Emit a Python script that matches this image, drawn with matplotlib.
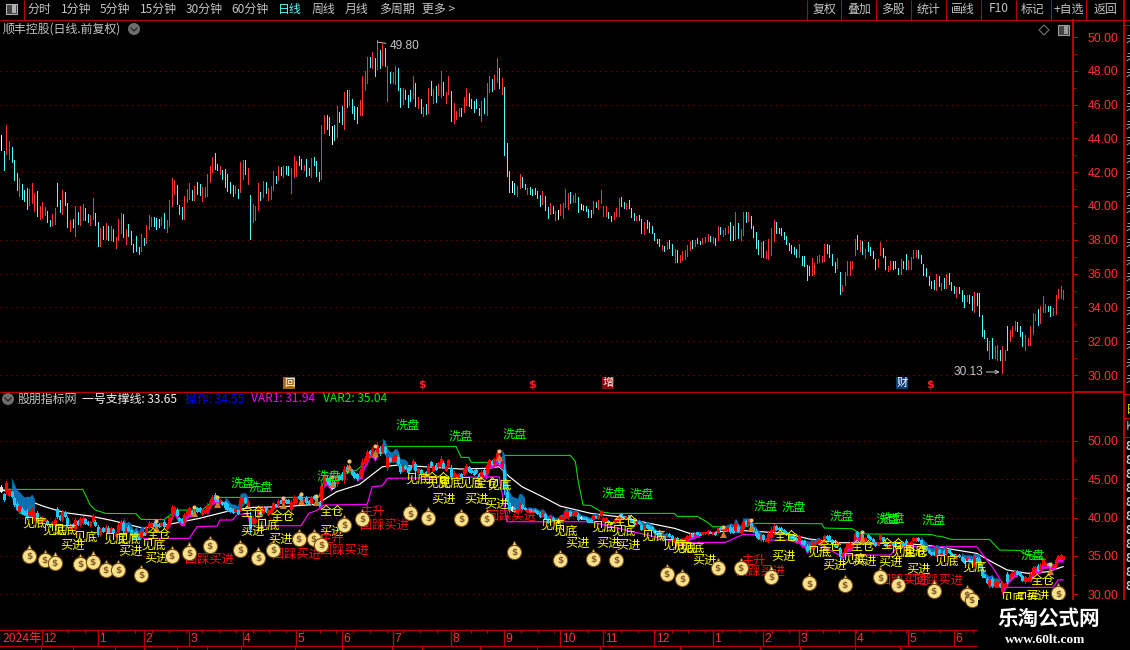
import matplotlib
matplotlib.use("Agg")
import matplotlib.pyplot as plt
from matplotlib.patches import Rectangle, Circle, Polygon
from matplotlib.ticker import FixedLocator
import numpy as np

plt.rcParams["font.family"] = ["Noto Sans CJK SC", "DejaVu Sans"]

# daily bars
highs = [
    44.2, 43.25, 44.79, 43.84, 43.49, 42.73, 41.98, 41.67, 41.31, 40.96,
    41.08, 41.02, 41.37, 40.78, 40.9, 40.02, 40.26, 39.96, 39.72, 39.2,
    39.55, 39.9, 41.37, 40.37, 40.96, 40.84, 40.2, 39.2, 39.26, 39.98,
    39.67, 40.02, 40.14, 39.9, 39.53, 39.49, 40.49, 39.61, 39.08, 38.67,
    38.79, 39.02, 38.84, 38.79, 38.65, 38.14, 39.26, 39.61, 39.55, 38.61,
    38.96, 38.55, 37.78, 38.25, 37.59, 38.37, 38.08, 38.9, 39.49, 39.37,
    39.37, 39.31, 39.26, 39.37, 39.61, 39.2, 40.37, 41.67, 41.55, 41.25,
    40.08, 39.96, 40.61, 41.02, 41.37, 40.96, 41.2, 41.43, 41.31, 41.14,
    41.14, 41.9, 42.37, 42.9, 43.14, 42.49, 42.37, 42.14, 42.2, 41.9,
    41.43, 41.25, 41.2, 41.02, 42.61, 42.73, 42.73, 42.25, 40.67, 40.14,
    40.02, 41.37, 40.84, 41.49, 41.43, 41.08, 41.2, 42.08, 41.78, 42.37,
    42.31, 42.37, 42.37, 42.37, 42.25, 42.96, 42.67, 42.96, 42.78, 42.43,
    42.78, 42.25, 42.84, 42.9, 42.67, 42.02, 44.79, 45.37, 45.37, 45.25,
    44.73, 44.79, 45.9, 45.55, 45.9, 46.73, 46.84, 46.84, 46.31, 45.9,
    45.84, 46.26, 47.67, 47.96, 48.84, 48.84, 49.14, 48.78, 49.8, 49.25,
    49.6, 49.37, 48.31, 47.9, 47.9, 48.31, 48.14, 46.96, 46.96, 46.84,
    46.55, 46.84, 47.67, 47.25, 46.43, 46.31, 45.84, 46.02, 46.96, 47.37,
    46.9, 47.08, 47.2, 47.96, 47.31, 46.73, 47.67, 46.78, 46.08, 45.61,
    45.78, 45.78, 46.43, 46.96, 46.67, 46.31, 46.2, 46.31, 45.78, 46.2,
    46.37, 47.25, 47.67, 47.49, 47.73, 48.73, 48.14, 47.55, 47.02, 43.73,
    42.08, 41.49, 41.37, 41.2, 41.9, 41.73, 41.31, 41.08, 41.14, 41.02,
    41.08, 40.9, 40.67, 40.9, 40.61, 39.96, 40.2, 40.02, 39.72, 39.78,
    40.14, 40.2, 41.02, 40.78, 40.84, 40.67, 40.78, 40.55, 40.14, 40.08,
    40.02, 39.84, 39.78, 40.31, 40.26, 40.37, 40.96, 40.02, 40.02, 39.66,
    39.39, 39.63, 39.88, 40.49, 40.55, 40.22, 40.18, 40.37, 39.9, 39.59,
    39.43, 39.49, 39.23, 39.03, 39.15, 39.03, 38.84, 38.4, 38.05, 38.05,
    37.71, 37.61, 37.85, 37.97, 37.73, 37.46, 37.42, 37.12, 37.34, 37.42,
    37.69, 37.93, 38.01, 37.97, 38.11, 37.95, 38.11, 38.17, 38.36, 38.2,
    38.17, 38.11, 38.8, 38.76, 38.6, 38.7, 38.8, 39.03, 38.8, 39.63,
    38.99, 38.64, 39.66, 39.63, 39.66, 39.43, 38.8, 38.48, 38.01, 37.89,
    37.91, 37.32, 38.05, 38.7, 39.19, 39.03, 38.7, 38.7, 38.48, 38.2,
    37.81, 37.69, 37.57, 37.46, 37.75, 37.06, 37.06, 36.51, 36.43, 36.92,
    36.63, 37.06, 37.12, 37.06, 37.77, 37.73, 37.71, 37.14, 36.67, 36.92,
    36.12, 35.35, 36.12, 36.73, 36.75, 36.73, 38.05, 38.3, 37.97, 37.91,
    37.46, 37.89, 37.55, 37.34, 36.86, 36.86, 37.85, 37.51, 37.02, 36.43,
    36.77, 36.73, 36.73, 36.33, 36.86, 36.73, 37.18, 36.83, 36.98, 37.42,
    37.42, 37.42, 37.12, 36.59, 36.33, 35.84, 35.56, 35.64, 36.0, 35.88,
    35.44, 35.72, 36.0, 36.04, 35.48, 35.29, 35.21, 35.21, 35.05, 34.75,
    34.75, 34.75, 34.65, 34.93, 34.85, 34.85, 33.57, 32.64, 32.19, 32.01,
    32.19, 31.7, 31.78, 31.46, 31.73, 31.5, 32.92, 32.64, 32.92, 33.2,
    33.12, 32.92, 32.52, 32.39, 32.19, 32.88, 33.67, 33.63, 33.91, 34.06,
    34.69, 34.22, 34.06, 34.06, 33.96, 34.75, 35.09, 35.29, 35.05,
]
lows = [
    43.31, 42.14, 43.08, 42.77, 42.61, 41.55, 40.96, 40.57, 40.43, 40.31,
    39.84, 40.08, 40.18, 39.72, 39.43, 39.26, 39.31, 39.49, 39.06, 38.79,
    38.9, 38.96, 39.98, 39.67, 39.55, 40.08, 38.73, 38.55, 38.73, 38.25,
    38.96, 38.9, 39.2, 39.2, 39.08, 38.9, 39.26, 38.9, 37.61, 37.61,
    38.06, 38.02, 38.0, 37.96, 37.9, 37.49, 37.96, 38.43, 38.14, 37.78,
    38.2, 37.73, 37.26, 37.31, 37.14, 37.31, 37.67, 37.84, 38.61, 38.84,
    38.84, 38.61, 38.73, 38.9, 38.67, 38.49, 38.84, 40.02, 40.73, 40.14,
    39.55, 39.26, 39.26, 40.26, 40.43, 40.37, 40.37, 40.73, 40.67, 40.31,
    40.55, 40.57, 41.43, 42.02, 42.2, 42.14, 41.9, 41.61, 41.14, 40.9,
    40.78, 40.61, 40.78, 40.49, 40.84, 41.61, 41.9, 41.31, 38.02, 39.08,
    39.2, 39.78, 40.37, 40.55, 40.78, 40.37, 40.43, 40.96, 41.37, 41.55,
    41.84, 41.73, 41.9, 41.84, 40.78, 41.73, 41.78, 42.43, 42.2, 42.14,
    41.78, 41.82, 41.73, 42.43, 41.78, 41.49, 41.61, 44.31, 44.55, 44.2,
    43.67, 43.9, 44.08, 44.96, 44.84, 44.55, 45.84, 45.96, 45.49, 45.14,
    44.9, 45.37, 45.37, 46.84, 47.25, 48.25, 48.14, 47.67, 48.08, 48.14,
    48.37, 48.31, 46.2, 47.25, 47.25, 47.2, 46.84, 45.84, 46.02, 46.31,
    45.84, 46.2, 46.37, 45.9, 45.78, 45.49, 45.31, 45.43, 45.49, 46.55,
    46.08, 46.14, 46.55, 46.43, 46.55, 46.08, 46.6, 45.02, 44.9, 45.14,
    45.31, 45.31, 45.55, 45.96, 45.9, 45.78, 45.55, 45.78, 45.37, 45.02,
    45.49, 45.37, 46.73, 46.78, 46.9, 47.31, 46.96, 46.6, 43.02, 41.78,
    40.84, 40.84, 40.73, 40.61, 41.08, 41.14, 41.02, 40.73, 40.73, 40.67,
    40.73, 40.49, 40.02, 40.14, 39.78, 39.31, 39.55, 39.61, 39.2, 39.26,
    39.49, 39.31, 39.96, 39.84, 40.2, 40.26, 40.26, 39.67, 39.84, 39.78,
    39.72, 39.37, 39.37, 39.61, 39.96, 39.84, 40.2, 39.43, 39.43, 39.29,
    39.09, 39.23, 39.43, 39.43, 39.98, 39.9, 39.84, 39.88, 39.35, 39.15,
    39.19, 39.19, 38.4, 38.36, 38.68, 38.44, 38.4, 37.97, 37.81, 37.61,
    37.38, 37.32, 37.46, 37.51, 37.12, 36.67, 36.67, 36.71, 36.79, 36.86,
    37.06, 37.42, 37.51, 37.65, 37.81, 37.73, 37.81, 37.89, 37.91, 37.93,
    37.81, 37.71, 37.97, 38.36, 38.24, 38.36, 38.4, 38.01, 38.01, 38.05,
    38.09, 38.01, 38.3, 39.03, 39.09, 38.68, 38.17, 37.51, 37.18, 36.96,
    36.98, 36.9, 36.86, 37.12, 37.95, 38.4, 38.4, 38.3, 38.05, 37.75,
    37.38, 37.22, 37.18, 36.98, 36.98, 36.51, 36.47, 35.64, 35.94, 35.94,
    35.96, 36.63, 36.67, 36.71, 36.73, 37.22, 36.98, 36.51, 36.12, 36.33,
    34.77, 34.99, 35.35, 35.94, 35.94, 36.27, 37.12, 37.48, 37.36, 37.18,
    36.92, 37.34, 37.12, 36.92, 36.27, 36.39, 37.1, 36.98, 36.27, 36.13,
    36.27, 36.27, 36.33, 36.0, 36.0, 36.33, 36.27, 36.27, 36.27, 36.92,
    36.98, 36.92, 36.63, 35.94, 35.84, 35.35, 35.12, 35.09, 35.05, 35.29,
    35.05, 35.13, 35.15, 35.4, 35.05, 34.85, 34.61, 34.85, 34.36, 34.02,
    34.36, 34.26, 33.87, 33.71, 34.16, 33.51, 32.29, 32.19, 31.5, 30.95,
    30.99, 31.0, 30.91, 30.91, 30.13, 30.91, 31.5, 32.01, 32.33, 32.64,
    32.58, 32.33, 31.7, 31.5, 31.79, 31.79, 32.45, 33.27, 32.98, 33.08,
    33.71, 33.71, 33.77, 33.51, 33.55, 33.63, 34.54, 34.56, 34.5,
]
# w = flat, c = down, r = up
kinds = (
    "wcrrcccrcc crrrcrrrcc rrccrccrcr crrccrrccr crcrcrrrcr cccccrcrrr "
    "cccrcrrrrc ccrrrcrccr rrrrccrccc ccrcrrcrcr rrcrcrrrcr crccrrrccr "
    "ccrcccrrcc wcrccrcrcc crrrrcrcrc rcrcrrccrc ccrcrcrcrc rcrrcrrcrr "
    "rcrrcccccr crrcrrcrcc cwcrrccrcc cccrccrcrw rrrrcrrcwc cccrcrrrrc "
    "crrrccrccc rccrcccccc rcrccrcrrr rrcrccrrrc rcrcrrrccr crrcrccccr "
    "crrrrccccc ccccrccccr rrrrrccccr crrrrrrcrc rccccrrccr rcccrccrrr "
    "rcccccccrc rcrcccrccc rccrcccccr crrcrrcrrr cccrrrrrcr rrccrrrrr"
).replace(" ", "")

# indicator lines in the lower pane, as bar index / value
green_idx = [0, 32, 35, 37, 41, 53, 55, 64, 69, 79, 85, 110, 125, 127, 140, 150, 179, 181, 184, 185,
             195, 198, 224, 226, 227, 229, 232, 236, 240, 265, 266, 274, 278, 280, 293, 297, 323, 324,
             335, 338, 341, 366, 368, 370, 374, 389, 393, 401, 404, 411]
green_val = [43.66, 43.66, 41.62, 40.97, 40.54, 40.49, 39.76, 39.71, 40.97, 40.97, 42.62, 42.62, 42.62,
             44.88, 46.18, 49.26, 49.26, 47.83, 47.83, 47.18, 47.18, 48.09, 48.09, 47.27, 44.88, 41.62,
             41.58, 40.76, 40.54, 40.54, 40.15, 40.15, 39.37, 38.8, 38.8, 39.24, 39.19, 38.63, 38.54,
             37.93, 37.85, 37.8, 37.59, 37.54, 37.15, 37.15, 35.76, 35.72, 35.1, 34.55]
white_idx = [0, 5, 10, 17, 25, 35, 44, 56, 68, 78, 91, 99, 111, 124, 132, 141, 150, 156, 181, 191, 196,
             200, 205, 213, 220, 232, 243, 254, 265, 271, 278, 288, 299, 309, 318, 330, 354, 364, 372,
             384, 391, 396, 404, 412, 418]
white_val = [43.58, 43.23, 42.27, 41.41, 40.63, 40.19, 39.58, 38.59, 39.24, 39.89, 40.97, 41.32, 41.41,
             41.71, 43.36, 44.31, 46.61, 46.83, 46.31, 46.4, 46.61, 45.31, 44.0, 42.71, 41.49, 40.54,
             40.1, 39.32, 38.59, 37.93, 37.93, 38.37, 38.15, 37.93, 37.2, 36.72, 36.63, 36.41, 35.98,
             35.33, 34.03, 33.16, 32.73, 32.94, 33.6]
magenta_idx = [56, 74, 77, 85, 86, 91, 93, 97, 98, 118, 121, 124, 127, 144, 146, 150, 152, 196, 199,
               220, 232, 267, 285, 292, 299, 301, 313, 321, 330, 350, 353, 362, 384, 391, 395, 414,
               416, 418]
magenta_val = [37.28, 37.28, 38.8, 38.89, 39.67, 39.67, 40.45, 40.45, 38.93, 38.93, 40.54, 40.89, 41.62,
               41.71, 44.01, 44.14, 45.1, 45.3, 39.45, 39.45, 39.45, 36.72, 36.76, 37.8, 37.72, 37.07,
               37.07, 36.63, 35.11, 35.11, 36.2, 36.2, 36.2, 33.16, 30.9, 30.9, 31.86, 31.9]

# stretches where the coloured ribbon shows, with how far it stands off the bars
down_runs = [(4, 13), (48, 56), (88, 97), (150, 160), (197, 206), (207, 235), (250, 262), (285, 299),
             (316, 322), (362, 372), (378, 393)]
down_pads = [1.7, 0.6, 0.5, 0.7, 1.3, 0.25, 0.3, 0.3, 0.3, 0.5, 0.4]
up_runs = [(66, 75), (81, 86), (125, 130), (140, 148), (190, 197), (265, 275), (310, 318), (330, 340),
           (394, 400), (405, 418)]

# money bags and little figures in the lower pane
bag_idx = [11, 17, 21, 31, 36, 41, 46, 55, 67, 74, 82, 94, 101, 107, 117, 123, 126, 135, 142, 161, 168,
           181, 191, 202, 220, 233, 242, 262, 268, 282, 291, 303, 318, 332, 346, 353, 367, 380, 382, 416]
bag_val = [35.03, 34.46, 34.11, 33.94, 34.24, 33.16, 33.16, 32.51, 34.98, 35.42, 36.28, 35.76, 34.77,
           35.76, 37.2, 37.2, 36.42, 39.02, 39.8, 40.54, 39.97, 39.8, 39.8, 35.55, 34.46, 34.59, 34.46,
           32.64, 31.99, 33.42, 33.42, 32.29, 31.42, 31.2, 32.2, 31.2, 30.47, 29.9, 29.25, 30.12]
man_idx = [61, 76, 85, 111, 118, 124, 130, 137, 147, 196, 284, 295, 339, 413]
man_val = [39.15, 41.06, 42.27, 42.19, 42.71, 42.49, 44.88, 47.05, 48.91, 48.35, 38.37, 39.32, 37.72, 33.59]

# signal words in the lower pane
jiandi_idx = [13, 21, 25, 33, 45, 50, 60, 105, 164, 172, 177, 185, 196, 217, 222, 237, 245, 257, 265, 269,
              272, 322, 336, 355, 360, 372, 383, 398, 404]
jiandi_val = [39.32, 38.37, 38.37, 37.37, 37.2, 37.2, 36.41, 39.02, 44.97, 44.53, 44.53, 44.44, 44.23,
              39.02, 38.28, 38.72, 38.28, 37.59, 36.42, 35.98, 35.98, 35.42, 34.55, 35.42, 35.55, 34.37,
              33.51, 29.47, 29.47]
mairu_idx = [28, 51, 61, 99, 110, 130, 174, 187, 195, 227, 239, 247, 277, 308, 328, 340, 350, 361, 408]
mairu_val = [36.41, 35.63, 34.68, 38.15, 37.2, 38.15, 42.36, 42.36, 41.75, 36.63, 36.63, 36.33, 34.46, 34.9,
             33.72, 34.24, 34.11, 33.29, 29.69]
quancang_idx = [62, 99, 111, 130, 172, 191, 246, 309, 326, 339, 351, 360, 410]
quancang_val = [37.85, 40.67, 40.19, 40.76, 45.1, 44.44, 39.45, 37.5, 36.2, 36.2, 36.42, 35.42, 31.77]
xipan_idx = [95, 102, 129, 160, 181, 202, 241, 252, 301, 312, 331, 349, 351, 367, 406]
xipan_val = [44.44, 43.92, 45.4, 52.04, 50.61, 50.87, 43.14, 43.06, 41.49, 41.28, 40.19, 39.76, 39.89, 39.58,
             35.11]
huicai_idx = [82, 116, 135, 151, 201, 299, 355, 369]
huicai_val = [34.59, 35.24, 35.68, 39.02, 40.1, 32.94, 31.77, 31.77]
zhusheng_idx = [130, 146, 296]
zhusheng_val = [37.28, 40.76, 34.46]

# date strip
month_idx = [16, 38, 56, 74, 95, 116, 134, 154, 177, 198, 220, 237, 257, 280, 300, 314, 336, 357, 375]
month_labels = ["12", "1", "2", "3", "4", "5", "6", "7", "8", "9", "10", "11", "12", "1", "2", "3", "4", "5", "6"]

# toolbar
left_tabs = ["分时", "1分钟", "5分钟", "15分钟", "30分钟", "60分钟", "日线", "周线", "月线", "多周期", "更多 >"]
left_tab_x = [39, 76, 115, 158, 204, 250, 290, 323, 357, 397, 439]
right_tabs = ["复权", "叠加", "多股", "统计", "画线", "F10", "标记", "+自选", "返回"]
right_tab_x = [825, 859, 893, 928, 963, 999, 1033, 1069, 1105]
right_tab_sep = [807, 841, 876, 911, 946, 981, 1016, 1051, 1086, 1123]

W, H = 1130, 650
AXIS_X = 1073
BAR_W = 2.54
RED_LINE = "#b80000"
RED_TEXT = "#ff3232"
GRAY = "#c4c4c4"
PX = 0.72  # one pixel in points at dpi 100


def pane(fig, y_top, y_bottom, v_top, v_bottom):
    """Make a price pane that fills the chart width between two pixel rows."""
    ax = fig.add_axes([0, 1 - y_bottom / H, AXIS_X / W, (y_bottom - y_top) / H])
    ax.set_facecolor("black")
    ax.set_xlim(-1.4 / BAR_W, (AXIS_X - 1.4) / BAR_W)
    ax.set_ylim(v_bottom, v_top)
    ax.set_xticks([])
    for side in ax.spines:
        ax.spines[side].set_visible(False)
    ax.spines["right"].set_visible(True)
    ax.spines["right"].set_color(RED_LINE)
    ax.spines["right"].set_linewidth(2 * PX)
    ax.yaxis.tick_right()
    return ax


def style_y(ax, majors, minors):
    ax.yaxis.set_major_locator(FixedLocator(majors))
    ax.yaxis.set_minor_locator(FixedLocator(minors))
    ax.set_yticklabels([f"{m:.2f}" for m in majors], family="Liberation Sans", fontsize=8.9, color=RED_TEXT)
    ax.tick_params(axis="y", which="major", length=5 * PX, width=PX, color=RED_LINE, pad=10 * PX)
    ax.tick_params(axis="y", which="minor", length=3 * PX, width=PX, color=RED_LINE)
    ax.hlines(majors, *ax.get_xlim(), colors="#b00000", linewidth=PX, linestyles=(0, (1, 4.5)), zorder=1)


def draw_upper(ax, x, hi, lo):
    palette = {"w": "#ffffff", "c": "#54fcfc", "r": "#ff3232"}
    ax.vlines(x, lo, hi, colors=[palette[k] for k in kinds], linewidth=PX, antialiased=False, zorder=3)

    style_y(ax, list(range(30, 51, 2)), list(range(31, 51, 2)))
    ax.hlines(50, *ax.get_xlim(), colors="black", linewidth=2, zorder=2)

    peak = int(np.argmax(hi))
    bottom = int(np.argmin(lo))
    ax.annotate(f"{hi[peak]:.2f}", xy=(peak, hi[peak] - 0.1), xytext=(peak + 5, hi[peak] - 0.35),
                color=GRAY, fontsize=8.6, family="Liberation Sans", va="center", zorder=5,
                arrowprops=dict(arrowstyle="-", color=GRAY, linewidth=PX, shrinkA=1, shrinkB=0))
    ax.annotate(f"{lo[bottom]:.2f}", xy=(bottom - 1, lo[bottom] + 0.05), xytext=(bottom - 19, lo[bottom] + 0.05),
                color=GRAY, fontsize=8.6, family="Liberation Sans", va="center", zorder=5,
                arrowprops=dict(arrowstyle="->", color=GRAY, linewidth=PX, mutation_scale=6, shrinkA=0, shrinkB=0))


def draw_lower(ax, x, hi, lo):
    style_y(ax, [30, 35, 40, 45, 50], [32.5, 37.5, 42.5, 47.5])

    ax.plot(green_idx, green_val, color="#00f000", linewidth=PX, zorder=2)
    ax.plot(white_idx, white_val, color="#ffffff", linewidth=PX * 1.2, zorder=2)
    ax.plot(magenta_idx, magenta_val, color="#ff00ff", linewidth=PX * 1.2, zorder=2)

    for (a, b), pad in zip(down_runs, down_pads):
        s = np.arange(a, b + 1)
        ax.fill_between(s, lo[s], hi[s] + pad, color="#0b6fb0", linewidth=0, zorder=3)
    for a, b in up_runs:
        s = np.arange(a, b + 1)
        ax.fill_between(s, lo[s] - 0.35, lo[s] + 0.4, color="#e000e0", linewidth=0, zorder=3)

    palette = {"w": "#ffd8ec", "c": "#1cc8fa", "r": "#ff0000"}
    colours = [palette[k] for k in kinds]
    mid = (hi + lo) / 2
    half = (hi - lo) / 2
    ax.vlines(x, lo, hi, colors=colours, linewidth=PX, antialiased=False, zorder=4)
    ax.vlines(x, mid - half * 0.6, mid + half * 0.6, colors=colours, linewidth=3 * PX, antialiased=False, zorder=4)

    ax.scatter(man_idx, np.array(man_val) - 0.5, marker="^", s=26, color="#d07a28", linewidths=0, zorder=6)
    ax.scatter(man_idx, np.array(man_val) + 0.35, marker="o", s=9, color="#f4c070", linewidths=0, zorder=6)

    words = [
        ("洗盘", xipan_idx, xipan_val, "#00ff00"),
        ("见底", jiandi_idx, jiandi_val, "#ffff00"),
        ("买进", mairu_idx, mairu_val, "#ffff00"),
        ("全仓", quancang_idx, quancang_val, "#ffff00"),
        ("回踩买进", huicai_idx, huicai_val, "#ff1010"),
        ("主升", zhusheng_idx, zhusheng_val, "#ff1010"),
    ]
    for word, xs, ys, colour in words:
        for px_, py_ in zip(xs, ys):
            ax.text(px_, py_, word, color=colour, fontsize=8.8, ha="center", va="center", zorder=8, clip_on=True)

    ax.scatter(bag_idx, np.array(bag_val) + 0.95, marker="^", s=24, color="#f8e8a0", edgecolors="#7a4c14",
               linewidths=0.6, zorder=9)
    ax.scatter(bag_idx, bag_val, marker="o", s=105, color="#f6e28c", edgecolors="#7a4c14", linewidths=0.8, zorder=9)
    for bx, by in zip(bag_idx, bag_val):
        ax.text(bx, by - 0.1, "$", color="#8a5c24", fontsize=6.5, fontweight="bold", ha="center", va="center",
                family="DejaVu Sans", zorder=10, clip_on=True)


def draw_date_strip(fig):
    ax = fig.add_axes([0, 1 - 646 / H, 978 / W, 16 / H])
    ax.set_facecolor("black")
    ax.set_xlim(-1.4 / BAR_W, (978 - 1.4) / BAR_W)
    ax.set_ylim(0, 1)
    ax.set_xticks(np.arange(6.5, 385, 6.6))
    ax.set_xticklabels([])
    ax.tick_params(axis="x", direction="in", top=True, bottom=False, length=2, width=PX, color=RED_LINE)
    ax.set_yticks([])
    for side in ("left", "right"):
        ax.spines[side].set_visible(False)
    for side in ("top", "bottom"):
        ax.spines[side].set_color(RED_LINE)
        ax.spines[side].set_linewidth(PX * 1.4)
    ax.vlines(month_idx, 0, 1, colors=RED_LINE, linewidth=PX * 1.4)
    ax.text(0.3, 0.45, "2024年", color=RED_TEXT, fontsize=8.8, va="center")
    for m, label in zip(month_idx, month_labels):
        ax.text(m + 0.6, 0.45, label, color=RED_TEXT, fontsize=8.8, va="center", family="Liberation Sans")


def draw_chrome(fig):
    """Toolbar, captions and the side strip, placed in pixel rows and columns."""
    ax = fig.add_axes([0, 0, 1, 1], zorder=20)
    ax.set_xlim(0, W)
    ax.set_ylim(H, 0)
    ax.axis("off")
    ax.patch.set_alpha(0)

    # toolbar
    ax.hlines(19.5, 0, W, colors=RED_LINE, linewidth=PX * 1.3)
    ax.vlines(23.5, 0, 19.5, colors=RED_LINE, linewidth=PX * 1.3)
    ax.add_patch(Rectangle((6, 4), 11, 10, facecolor="#444444", edgecolor="#b0b0b0", linewidth=0.8))
    ax.add_patch(Rectangle((12, 5), 4, 8, facecolor="#b0b0b0", edgecolor="none"))
    for label, tx in zip(left_tabs, left_tab_x):
        colour = "#54fcfc" if label == "日线" else GRAY
        ax.text(tx, 9, label, color=colour, fontsize=8.6, ha="center", va="center")
    ax.vlines(right_tab_sep, 0, 19.5, colors=RED_LINE, linewidth=PX)
    for label, tx in zip(right_tabs, right_tab_x):
        ax.text(tx, 9, label, color=GRAY, fontsize=8.6, ha="center", va="center")

    # captions
    ax.text(3, 29, "顺丰控股(日线.前复权)", color=GRAY, fontsize=8.6, va="center")
    for cx, cy in [(134, 29), (8, 399)]:
        ax.add_patch(Circle((cx, cy), 6, facecolor="#6e6e6e", edgecolor="none"))
        ax.plot([cx - 3, cx, cx + 3], [cy - 1, cy + 2, cy - 1], color="#222222", linewidth=0.9)
    ax.add_patch(Polygon([(1044, 25), (1049, 30), (1044, 35), (1039, 30)], fill=False, edgecolor="#707070", linewidth=0.8))
    ax.add_patch(Rectangle((1058, 25), 11, 10, facecolor="#444444", edgecolor="#9a9a9a", linewidth=0.8))
    ax.add_patch(Rectangle((1064, 26), 4, 8, facecolor="#9a9a9a", edgecolor="none"))

    ax.text(18, 399, "股朋指标网", color=GRAY, fontsize=8.6, va="center")
    ax.text(82, 399, "一号支撑线: 33.65", color="#f0f0f0", fontsize=8.6, va="center")
    ax.text(185, 399, "操作: 34.55", color="#0000ff", fontsize=8.6, va="center")
    ax.text(251, 399, "VAR1: 31.94", color="#ff00ff", fontsize=8.6, va="center")
    ax.text(323, 399, "VAR2: 35.04", color="#00f000", fontsize=8.6, va="center")

    # event flags at the foot of the upper pane
    ax.add_patch(Rectangle((283, 377), 12, 12, facecolor="#a86a10", edgecolor="none"))
    ax.text(289, 383, "回", color="white", fontsize=7.5, ha="center", va="center")
    for fx in (422, 532, 930):
        ax.text(fx, 385, "$", color="#ff2020", fontsize=8, ha="center", va="center", fontweight="bold", family="DejaVu Sans")
    ax.add_patch(Rectangle((602, 377), 12, 12, facecolor="#8c0808", edgecolor="none"))
    ax.text(608, 383, "增", color="white", fontsize=8, ha="center", va="center")
    ax.add_patch(Rectangle((896, 377), 12, 12, facecolor="#0a3c78", edgecolor="none"))
    ax.text(902, 383, "财", color="white", fontsize=8, ha="center", va="center")

    # pane borders and the side strip
    ax.hlines(391.5, 0, 1123, colors=RED_LINE, linewidth=PX * 1.4)
    ax.hlines(392, AXIS_X, 1123, colors=RED_LINE, linewidth=PX * 2)
    ax.vlines(1123.5, 0, H, colors=RED_LINE, linewidth=PX * 2)
    for sy in range(40, 385, 17):
        ax.text(1125.5, sy, "未", color="#b0b0b0", fontsize=8.6, va="center", clip_on=True)
    for sy in (25, 137):
        ax.hlines(sy, 1123, W, colors=RED_LINE, linewidth=PX)
    ax.hlines([394, 418, 437], 1123, W, colors=RED_LINE, linewidth=PX)
    ax.text(1125.5, 409, "日", color="#e0e000", fontsize=8.6, va="center", clip_on=True)
    ax.text(1125.5, 427, "K", color="#b0b0b0", fontsize=8.6, va="center", clip_on=True)
    for sy in range(447, 600, 14):
        ax.text(1126, sy, "8", color="#c8c8c8", fontsize=8.6, va="center", clip_on=True, fontweight="bold")

    # tabs cut off below the date strip
    ax.vlines([41, 73, 115, 144, 177, 207, 241, 295, 342, 392, 422, 480, 537, 600, 680, 760, 800, 855, 900], 646, H,
              colors=RED_LINE, linewidth=PX)

    # watermark box
    ax.add_patch(Rectangle((978, 600), W - 978, H - 600, facecolor="black", edgecolor="none", zorder=5))
    ax.text(1049, 618, "乐淘公式网", color="white", fontsize=14.8, fontweight="bold", ha="center", va="center", zorder=6)
    ax.text(1045, 640, "www.60lt.com", color="white", fontsize=9.6, fontweight="bold", ha="center", va="center",
            family="Liberation Serif", zorder=6)


def main():
    assert len(highs) == len(lows) == len(kinds)
    x = np.arange(len(highs))
    hi = np.array(highs)
    lo = np.array(lows)

    fig = plt.figure(figsize=(W / 100, H / 100), dpi=100, facecolor="black")
    upper = pane(fig, 20, 391, 50 + 17 / 16.9, 30 - 16 / 16.9)
    lower = pane(fig, 392, 630, 50 + 48.7 / 7.68, 30 - 35.7 / 7.68)
    draw_upper(upper, x, hi, lo)
    draw_lower(lower, x, hi, lo)
    draw_date_strip(fig)
    draw_chrome(fig)
    fig.savefig("out.png", dpi=100, facecolor="black")
    plt.close(fig)


if __name__ == "__main__":
    main()
